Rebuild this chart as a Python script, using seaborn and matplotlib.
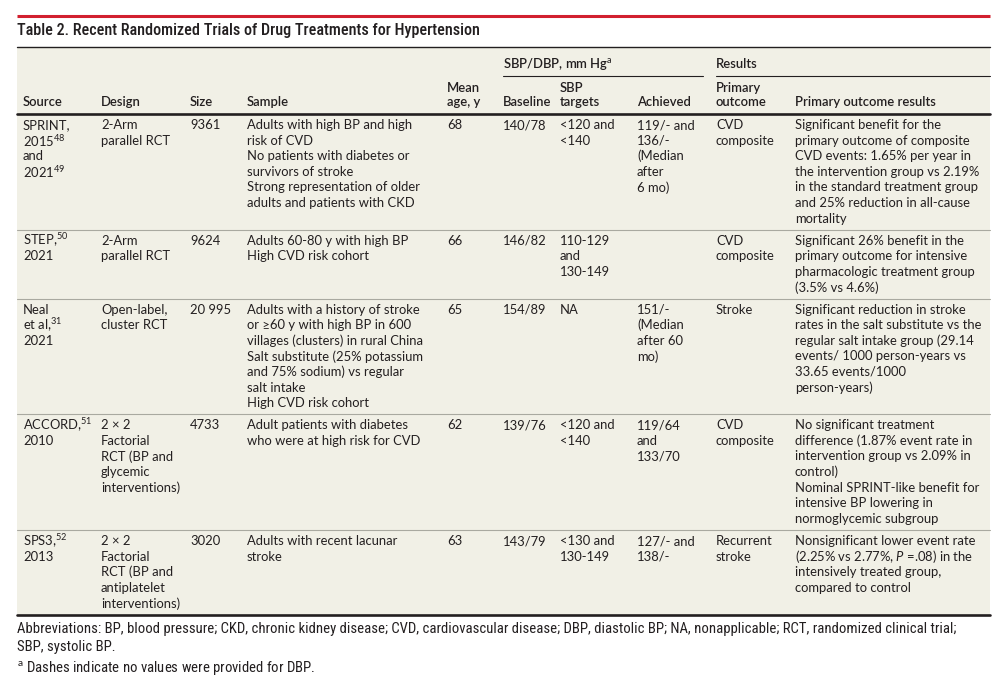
import matplotlib
matplotlib.use("Agg")
import matplotlib.pyplot as plt
from matplotlib import font_manager
from matplotlib.patches import Rectangle
import seaborn as sns

# 表格内容
title = "Table 2. Recent Randomized Trials of Drug Treatments for Hypertension"
group_headers = ["SBP/DBP, mm Hg$^{\\mathrm{a}}$", "Results"]
col_headers = [["Source"], ["Design"], ["Size"], ["Sample"], ["Mean", "age, y"],
               ["Baseline"], ["SBP", "targets"], ["Achieved"], ["Primary", "outcome"],
               ["Primary outcome results"]]

sources = [["SPRINT,", "2015$^{48}$", "and", "2021$^{49}$"],
           ["STEP,$^{50}$", "2021"],
           ["Neal", "et al,$^{31}$", "2021"],
           ["ACCORD,$^{51}$", "2010"],
           ["SPS3,$^{52}$", "2013"]]
designs = [["2-Arm", "parallel RCT"],
           ["2-Arm", "parallel RCT"],
           ["Open-label,", "cluster RCT"],
           ["2 × 2", "Factorial", "RCT (BP and", "glycemic", "interventions)"],
           ["2 × 2", "Factorial", "RCT (BP and", "antiplatelet", "interventions)"]]
sizes = [["9361"], ["9624"], ["20 995"], ["4733"], ["3020"]]
samples = [["Adults with high BP and high", "risk of CVD", "No patients with diabetes or",
            "survivors of stroke", "Strong representation of older", "adults and patients with CKD"],
           ["Adults 60-80 y with high BP", "High CVD risk cohort"],
           ["Adults with a history of stroke", "or ≥60 y with high BP in 600",
            "villages (clusters) in rural China", "Salt substitute (25% potassium",
            "and 75% sodium) vs regular", "salt intake", "High CVD risk cohort"],
           ["Adult patients with diabetes", "who were at high risk for CVD"],
           ["Adults with recent lacunar", "stroke"]]
mean_ages = [["68"], ["66"], ["65"], ["62"], ["63"]]
baselines = [["140/78"], ["146/82"], ["154/89"], ["139/76"], ["143/79"]]
sbp_targets = [["<120 and", "<140"], ["110-129", "and", "130-149"], ["NA"],
               ["<120 and", "<140"], ["<130 and", "130-149"]]
achieved = [["119/- and", "136/-", "(Median", "after", "6 mo)"], [],
            ["151/-", "(Median", "after 60", "mo)"], ["119/64", "and", "133/70"],
            ["127/- and", "138/-"]]
outcomes = [["CVD", "composite"], ["CVD", "composite"], ["Stroke"],
            ["CVD", "composite"], ["Recurrent", "stroke"]]
results = [["Significant benefit for the", "primary outcome of composite",
            "CVD events: 1.65% per year in", "the intervention group vs 2.19%",
            "in the standard treatment group", "and 25% reduction in all-cause", "mortality"],
           ["Significant 26% benefit in the", "primary outcome for intensive",
            "pharmacologic treatment group", "(3.5% vs 4.6%)"],
           ["Significant reduction in stroke", "rates in the salt substitute vs the",
            "regular salt intake group (29.14", "events/ 1000 person-years vs",
            "33.65 events/1000", "person-years)"],
           ["No significant treatment", "difference (1.87% event rate in",
            "intervention group vs 2.09% in", "control)", "Nominal SPRINT-like benefit for",
            "intensive BP lowering in", "normoglycemic subgroup"],
           ["Nonsignificant lower event rate", "(2.25% vs 2.77%, $\\mathit{P}$ =.08) in the",
            "intensively treated group,", "compared to control"]]
footnotes = ["Abbreviations: BP, blood pressure; CKD, chronic kidney disease; CVD, cardiovascular "
             "disease; DBP, diastolic BP; NA, nonapplicable; RCT, randomized clinical trial;",
             "SBP, systolic BP.",
             "$^{\\mathrm{a}}$ Dashes indicate no values were provided for DBP."]

columns = [sources, designs, sizes, samples, mean_ages, baselines, sbp_targets,
           achieved, outcomes, results]

# 版式（像素坐标）
col_x = [23, 101, 190, 247, 447, 503, 560, 637, 716, 795]
left, right = 17, 990
pitch = 15.6
ink = "#231f20"
beige = "#f1f0e6"

sns.set_theme(style="white")
available = {f.name for f in font_manager.fontManager.ttflist}
body_font = next(f for f in ["Lato", "Roboto", "DejaVu Sans"] if f in available)
narrow_font = next((f for f in ["Roboto Condensed", "Liberation Sans Narrow",
                                "DejaVu Sans Condensed"] if f in available), body_font)
plt.rcParams["font.family"] = [body_font, "DejaVu Sans"]
plt.rcParams["mathtext.fontset"] = "custom"
plt.rcParams["mathtext.rm"] = body_font
plt.rcParams["mathtext.it"] = body_font + ":italic"

fig = plt.figure(figsize=(10.06, 6.92), dpi=100)
ax = fig.add_axes([0, 0, 1, 1])
ax.set_xlim(0, 1006)
ax.set_ylim(692, 0)
ax.axis("off")

fs = 9.4

# 标题
ax.plot([left, right], [16, 16], color="#d2202f", lw=2.2, solid_capstyle="butt")
ax.text(left, 31, title, fontsize=11.6, color=ink, va="center", family=narrow_font,
        fontweight="medium")
ax.plot([left, right], [47, 47], color=ink, lw=1.0)

# 行高
row_lines = [max(len(col[i]) for col in columns) for i in range(len(sources))]
row_tops = [114]
for n in row_lines:
    row_tops.append(row_tops[-1] + n * pitch + 6.5)

ax.add_patch(Rectangle((left, 47.5), right - left, row_tops[-1] - 47.5,
                       facecolor=beige, edgecolor="none", zorder=0))

# 表头
ax.text(503, 64, group_headers[0], fontsize=fs, color=ink, va="center", fontweight="semibold")
ax.text(716, 64, group_headers[1], fontsize=fs, color=ink, va="center", fontweight="semibold")
ax.plot([503, 703], [76, 76], color=ink, lw=0.8)
ax.plot([716, right], [76, 76], color=ink, lw=0.8)
for x, lines in zip(col_x, col_headers):
    for k, s in enumerate(lines):
        y = 102 - (len(lines) - 1 - k) * 14
        ax.text(x, y, s, fontsize=fs, color=ink, va="center", fontweight="semibold")
ax.plot([left, right], [114, 114], color=ink, lw=1.9)

# 表身
for i in range(len(sources)):
    top = row_tops[i]
    for x, col in zip(col_x, columns):
        for k, s in enumerate(col[i]):
            ax.text(x, top + 11 + k * pitch, s, fontsize=fs, color=ink, va="center")
    if i < len(sources) - 1:
        ax.plot([left, right], [row_tops[i + 1]] * 2, color="#a9a9a0", lw=0.8)
ax.plot([left, right], [row_tops[-1]] * 2, color=ink, lw=1.9)

# 注释
foot_y = [row_tops[-1] + 14, row_tops[-1] + 32, row_tops[-1] + 54]
for y, s in zip(foot_y, footnotes):
    ax.text(left, y, s, fontsize=10.6, color=ink, va="center", family=narrow_font)

fig.savefig("out.png", dpi=100, facecolor="white")
